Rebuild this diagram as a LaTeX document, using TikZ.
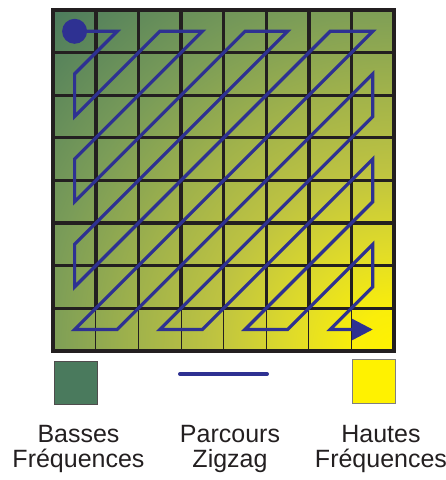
\documentclass[tikz,border=0pt]{standalone}
\usepackage{fontspec}
\setmainfont{Liberation Sans}
\usetikzlibrary{arrows.meta}
\definecolor{pathblue}{HTML}{2E3192}
\definecolor{gridblack}{HTML}{231F20}
\definecolor{lowgreen}{RGB}{74,122,93}
\definecolor{highyellow}{HTML}{FFF200}
\definecolor{textgray}{HTML}{231F20}
\definecolor{gA}{RGB}{250,238,10}
\definecolor{gB}{RGB}{225,220,40}
\definecolor{gC}{RGB}{190,195,65}
\definecolor{gD}{RGB}{160,178,75}
\definecolor{gE}{RGB}{122,156,88}
\pgfdeclareradialshading{freqshade}{\pgfpoint{0bp}{0bp}}{color(0bp)=(highyellow); color(40bp)=(gA); color(100bp)=(gB); color(180bp)=(gC); color(260bp)=(gD); color(350bp)=(gE); color(485bp)=(lowgreen); color(500bp)=(lowgreen)}
\tikzset{
  gridthick/.style={draw=gridblack, line width=3.3pt},
  gridthin/.style={draw=gridblack, line width=0.9pt},
  zigzag/.style={draw=pathblue, line width=3.2pt, line join=miter},
  legendbox/.style={minimum size=43.4pt, inner sep=0pt, line width=0.8pt},
  labeltext/.style={font=\fontsize{25}{25.5}\selectfont, text=textgray, align=center, inner sep=0pt, anchor=north}
}
\begin{document}
\begin{tikzpicture}[x=1pt,y=-1pt]
\useasboundingbox (0,0) rectangle (446,480);
\def\gx{53.3}
\def\gy{10}
\def\cs{42.6}
% background gradient
\begin{scope}
  \clip (\gx,\gy) rectangle ({\gx+8*\cs},{\gy+8*\cs});
  \node[inner sep=0pt, outer sep=0pt] (bgshade) at ({\gx+8*\cs},{\gy+8*\cs}) {\pgfuseshading{freqshade}};
\end{scope}
% cell centres
\foreach \i in {0,...,7}{
  \foreach \j in {0,...,7}{
    \coordinate (c-\i-\j) at ({\gx+\cs*\i+\cs/2},{\gy+\cs*\j+\cs/2});
  }
}
% grid
\foreach \k in {1,...,7}{
  \draw[gridthick] (\gx,{\gy+\k*\cs}) -- ({\gx+8*\cs},{\gy+\k*\cs});
  \draw[gridthick] ({\gx+\k*\cs},\gy) -- ({\gx+\k*\cs},{\gy+7*\cs});
  \draw[gridthin] ({\gx+\k*\cs},{\gy+7*\cs}) -- ({\gx+\k*\cs},{\gy+8*\cs});
}
\draw[gridblack, line width=3.8pt] (\gx,\gy) rectangle ({\gx+8*\cs},{\gy+8*\cs});
% zigzag path
\fill[pathblue] (c-0-0) circle (12.5);
\draw[zigzag, -{Triangle[length=21pt,width=21pt]}]
  (c-0-0) -- (c-1-0) -- (c-0-1) -- (c-0-2) -- (c-2-0) -- (c-3-0) -- (c-0-3)
  -- (c-0-4) -- (c-4-0) -- (c-5-0) -- (c-0-5) -- (c-0-6) -- (c-6-0) -- (c-7-0)
  -- (c-0-7) -- (c-1-7) -- (c-7-1) -- (c-7-2) -- (c-2-7) -- (c-3-7) -- (c-7-3)
  -- (c-7-4) -- (c-4-7) -- (c-5-7) -- (c-7-5) -- (c-7-6) -- (c-6-7) -- (c-7-7);
% legend
\node[legendbox, draw=gridblack!80, fill=lowgreen] (lowbox) at (76,383) {};
\node[legendbox, draw=gray, fill=highyellow] (highbox) at (374,381.5) {};
\coordinate (zzA) at (180,374);
\coordinate (zzB) at (267,374);
\draw[pathblue, line width=4pt, line cap=round] (zzA) -- (zzB);
\node[labeltext] (lowlabel) at (78.5,425) {Basses\\Fréquences};
\node[labeltext] (zzlabel) at (230,425) {Parcours\\Zigzag};
\node[labeltext] (highlabel) at (381,425) {Hautes\\Fréquences};
\end{tikzpicture}
\end{document}
